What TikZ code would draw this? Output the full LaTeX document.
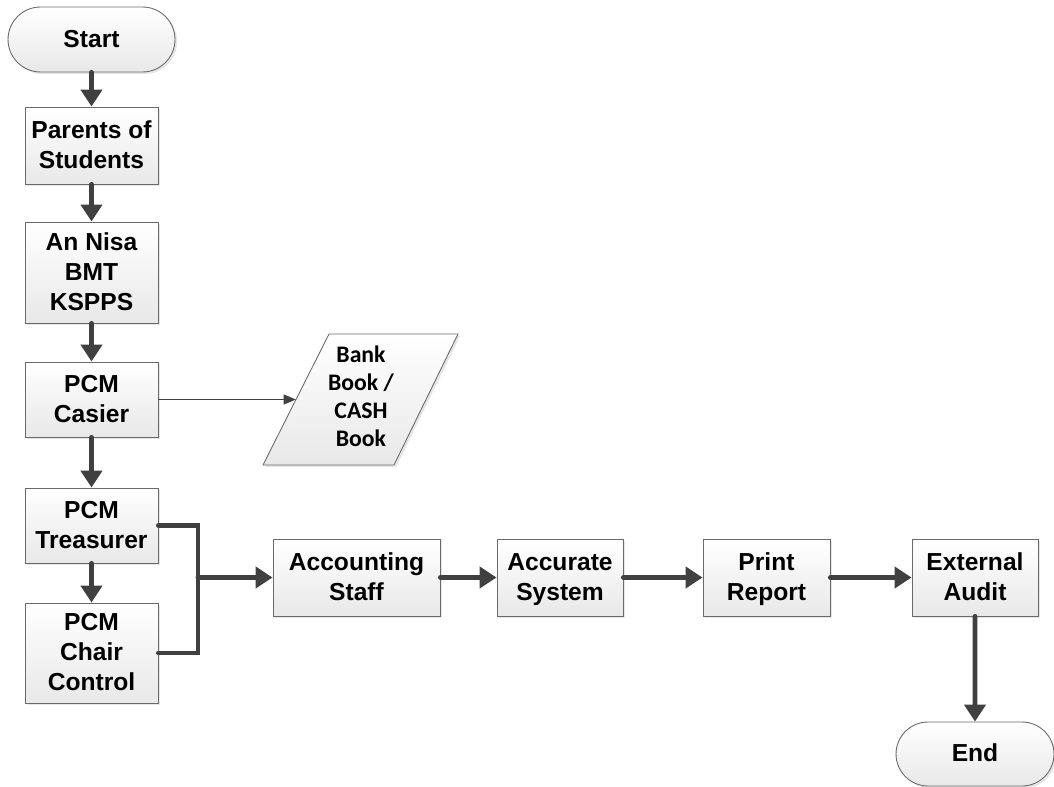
\documentclass[tikz,border=0pt]{standalone}
\usepackage{fontspec}
\setmainfont{Liberation Sans}
\newfontfamily\calibri{Carlito}
\usetikzlibrary{arrows.meta,shapes.misc,shadows,calc}
\definecolor{lineC}{HTML}{404040}
\definecolor{edgeC}{HTML}{6A6A6A}
\newcommand\mytop{\rule{0pt}{12pt}}
\newcommand\mybot{\rule[-3.2pt]{0pt}{3.2pt}}
\begin{document}
\begin{tikzpicture}[x=0.02cm,y=-0.02cm,
  box/.style={draw=edgeC, line width=0.5pt, top color=white, bottom color=black!9,
    font=\bfseries\fontsize{14}{17}\selectfont, align=center, inner sep=0pt,
    drop shadow={shadow xshift=1.2pt,shadow yshift=-1.2pt,opacity=0.2}},
  term/.style={box, rounded rectangle},
  flow/.style={draw=lineC, line width=2.8pt, line cap=round, -{Triangle[width=0.42cm,length=0.34cm]}},
  thinflow/.style={draw=lineC, line width=0.8pt, -{Triangle[width=0.2cm,length=0.25cm]}},
  link/.style={draw=lineC, line width=2.8pt, line cap=round},
  datashape/.style={draw=edgeC, line width=0.5pt, top color=white, bottom color=black!9,
    drop shadow={shadow xshift=1.2pt,shadow yshift=-1.2pt,opacity=0.2}},
  datatext/.style={font=\calibri\bfseries\fontsize{13.5}{16}\selectfont, align=center, inner sep=0pt}
]
\useasboundingbox (0,0) rectangle (1054,787);

\node[term, minimum width=3.34cm, minimum height=1.3cm] (start) at (91.5,39.5) {\mytop Start\mybot};
\node[box, minimum width=2.66cm, minimum height=1.54cm] (parents) at (91.5,145.5) {\mytop Parents of\\Students\mybot};
\node[box, minimum width=2.66cm, minimum height=2.02cm] (annisa) at (91.5,272.5) {\mytop An Nisa\\BMT\\KSPPS\mybot};
\node[box, minimum width=2.66cm, minimum height=1.5cm] (casier) at (91.5,399.5) {\mytop PCM\\Casier\mybot};
\node[box, minimum width=2.66cm, minimum height=1.5cm] (treas) at (91.5,525.5) {\mytop PCM\\Treasurer\mybot};
\node[box, minimum width=2.66cm, minimum height=2.0cm] (chair) at (91.5,653) {\mytop PCM\\Chair\\Control\mybot};

\node[box, minimum width=3.34cm, minimum height=1.54cm] (acc) at (356.5,577.5) {\mytop Accounting\\Staff\mybot};
\node[box, minimum width=2.52cm, minimum height=1.54cm] (accur) at (560,577.5) {\mytop Accurate\\System\mybot};
\node[box, minimum width=2.54cm, minimum height=1.54cm] (print) at (766.5,577.5) {\mytop Print\\Report\mybot};
\node[box, minimum width=2.52cm, minimum height=1.54cm] (ext) at (975,577.5) {\mytop External\\Audit\mybot};
\node[term, minimum width=3.16cm, minimum height=1.28cm] (end) at (975,754) {\mytop End\mybot};

\coordinate (bl) at (263,465);
\coordinate (br) at (394,465);
\coordinate (tr) at (458,334);
\coordinate (tl) at (329,334);
\path[datashape] (bl) -- (br) -- (tr) -- (tl) -- cycle;
\node[datatext] (bank) at (361,396.5) {Bank\\Book /\\CASH\\Book};
\coordinate (bankin) at ($(bl)!0.5!(tl)$);

\draw[flow] (start) -- (parents);
\draw[flow] (parents) -- (annisa);
\draw[flow] (annisa) -- (casier);
\draw[flow] (casier) -- (treas);
\draw[flow] (treas) -- (chair);
\draw[thinflow] (casier.east) -- (bankin);

\coordinate (j) at (198,577.5);
\draw[link] (treas.east) -| (j) |- (chair.east);
\draw[flow] (j) -- (acc.west);
\draw[flow] (acc) -- (accur);
\draw[flow] (accur) -- (print);
\draw[flow] (print) -- (ext);
\draw[flow] (ext) -- (end);
\end{tikzpicture}
\end{document}
